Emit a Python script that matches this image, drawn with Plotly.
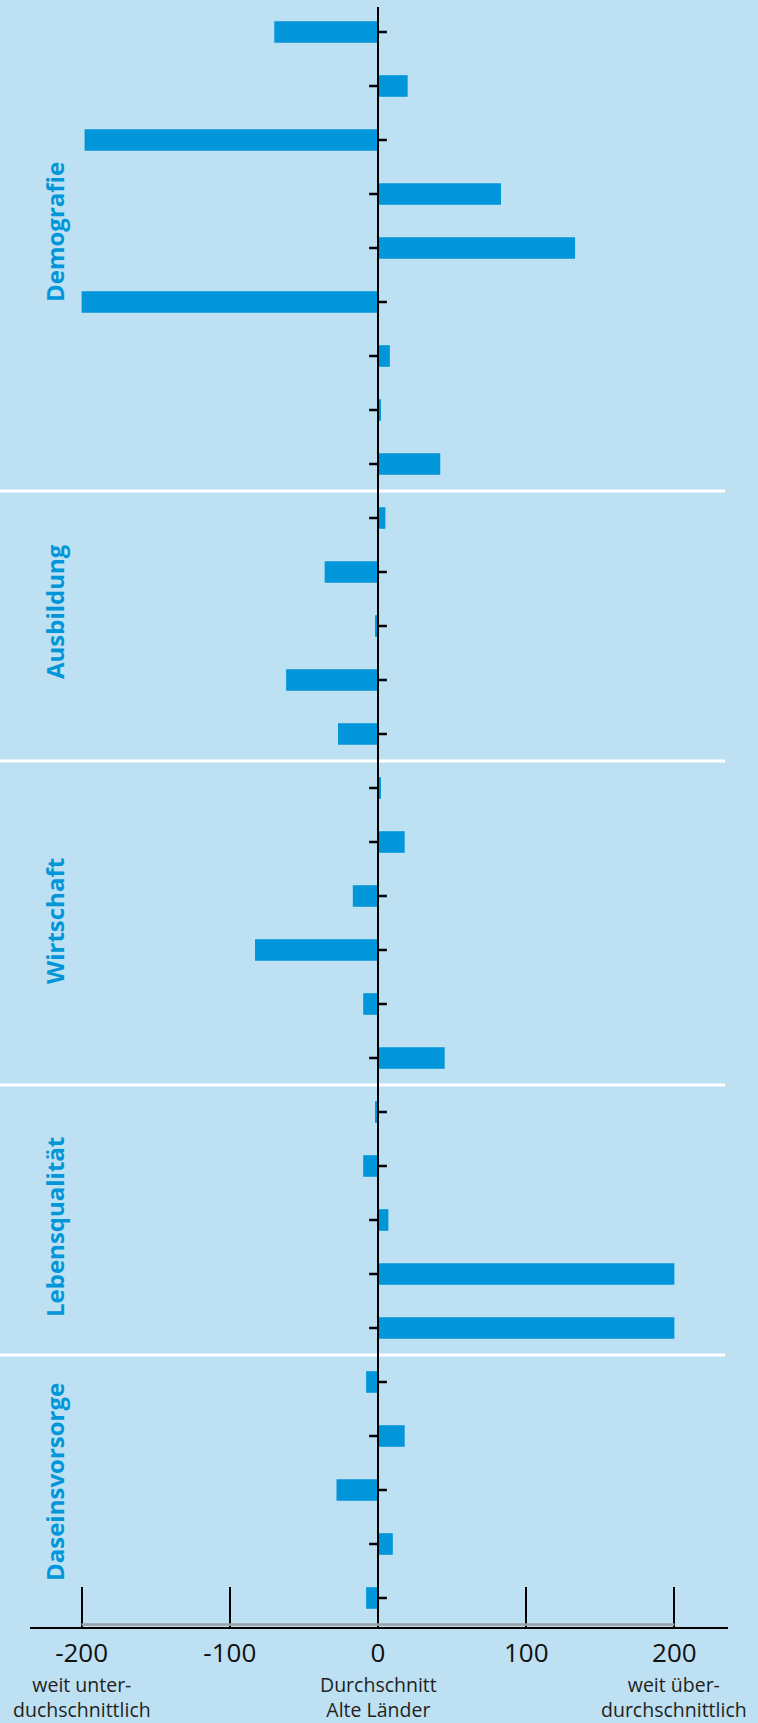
import plotly.graph_objects as go

# ---------------- data ----------------
groups = ["Demografie", "Ausbildung", "Wirtschaft", "Lebensqualität", "Daseinsvorsorge"]
group_sizes = [9, 5, 6, 5, 5]
values = [-70, 20, -198, 83, 133, -200, 8, 2, 42,
          5, -36, -2, -62, -27,
          2, 18, -17, -83, -10, 45,
          -2, -10, 7, 200, 200,
          -8, 18, -28, 10, -8]
tick_values = [-200, -100, 0, 100, 200]
tick_labels = ["-200", "-100", "0", "100", "200"]
scale_note_pos = [-200, 0, 200]
scale_notes = ["weit unter-<br>duchschnittlich",
               "Durchschnitt<br>Alte Länder",
               "weit über-<br>durchschnittlich"]

# ---------------- style ----------------
W, H = 758, 1723
PLOT_BOTTOM = 1627
BG = "#bee0f3"
BLUE = "#0096d9"
FONT = "Open Sans"
label_shift_px = [16, 14, 2, -7, 8]   # vertical placement tweak of group labels

rows = list(range(len(values)))

fig = go.Figure()
fig.add_trace(go.Bar(
    x=values, y=rows, orientation="h", width=0.4,
    marker=dict(color=BLUE, line=dict(width=0)),
    hoverinfo="skip",
))

# small ticks on the zero line, on the side opposite to each bar
tx, ty = [], []
for i, v in enumerate(values):
    s = -1 if v > 0 else 1
    tx += [0, s * 6, None]
    ty += [i, i, None]
fig.add_trace(go.Scatter(x=tx, y=ty, mode="lines",
                         line=dict(color="black", width=2.5),
                         hoverinfo="skip"))

shapes = []
start = 0
bounds = []
for n in group_sizes[:-1]:
    start += n
    bounds.append(start - 0.5)
for b in bounds:
    shapes.append(dict(type="line", xref="paper", yref="y",
                       x0=0, x1=725 / W, y0=b, y1=b,
                       line=dict(color="white", width=3), layer="below"))
shapes.append(dict(type="line", xref="x", yref="paper", x0=0, x1=0,
                   y0=0, y1=(PLOT_BOTTOM - 7) / PLOT_BOTTOM,
                   line=dict(color="black", width=2), layer="above"))
shapes.append(dict(type="line", xref="x", yref="paper", ysizemode="pixel",
                   yanchor=0, x0=tick_values[0], x1=tick_values[-1],
                   y0=2.5, y1=2.5,
                   line=dict(color="#9aa0a6", width=2.5), layer="above"))

annotations = []
start = 0
for g, n, sh in zip(groups, group_sizes, label_shift_px):
    annotations.append(dict(
        text=g, xref="paper", yref="y", x=54 / W, y=start + (n - 1) / 2,
        yshift=sh,
        xanchor="center", yanchor="middle", textangle=-90, showarrow=False,
        font=dict(family=FONT, size=24, color=BLUE, weight="bold")))
    start += n

for p, t in zip(scale_note_pos, scale_notes):
    annotations.append(dict(
        text=t, xref="x", yref="paper", x=p,
        y=-(1697 - PLOT_BOTTOM) / PLOT_BOTTOM,
        xanchor="center", yanchor="middle", showarrow=False,
        font=dict(family=FONT, size=19.5, color="#231f20")))

px_per_unit = 1.4819
x0_px, x1_px, zero_px = 30, 728, 378
n = len(values)
row_px = 54.0

fig.update_layout(
    width=W, height=H,
    margin=dict(l=0, r=0, t=0, b=H - PLOT_BOTTOM, pad=0),
    paper_bgcolor=BG, plot_bgcolor=BG,
    showlegend=False,
    shapes=shapes, annotations=annotations,
    xaxis=dict(
        domain=[x0_px / W, x1_px / W],
        range=[-(zero_px - x0_px) / px_per_unit, (x1_px - zero_px) / px_per_unit],
        tickvals=tick_values, ticktext=tick_labels,
        ticks="inside", ticklen=40, tickwidth=2, tickcolor="black",
        showline=True, linecolor="black", linewidth=2,
        showgrid=False, zeroline=False,
        tickfont=dict(family=FONT, size=26, color="#111111"),
        ticklabelstandoff=2,
        fixedrange=True,
    ),
    yaxis=dict(
        range=[(n - 1) + (PLOT_BOTTOM - (32 + (n - 1) * row_px)) / row_px, -32 / row_px],
        showticklabels=False, showgrid=False, zeroline=False, ticks="",
        fixedrange=True,
    ),
)

fig.write_html("out.html")
